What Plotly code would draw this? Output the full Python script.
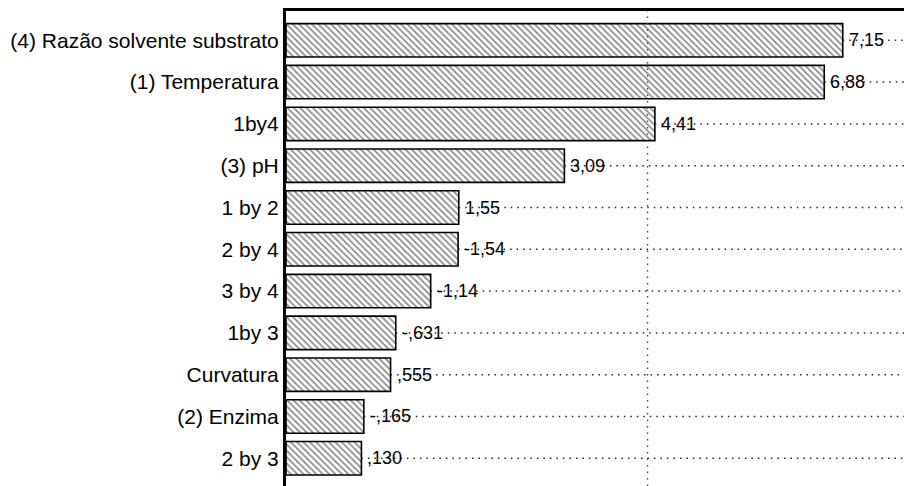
import plotly.graph_objects as go

# ---- data ----
categories = ["(4) Razão solvente substrato", "(1) Temperatura", "1by4", "(3) pH",
              "1 by 2", "2 by 4", "3 by 4", "1by 3", "Curvatura", "(2) Enzima", "2 by 3"]
effects = [7.15, 6.88, 4.41, 3.09, 1.55, -1.54, -1.14, -0.631, 0.555, -0.165, 0.130]
p_line = 4.303  # significance threshold (p = .05)


def fmt(v):
    if abs(v) >= 1:
        s = f"{v:.2f}"
    else:
        s = f"{v:.3f}".replace("0.", ".", 1)
    return s.replace(".", ",")


labels = [fmt(v) for v in effects]
abs_eff = [abs(v) for v in effects]
ypos = list(range(len(categories)))

XMIN, XMAX = -0.97, 8.16
FONT = "Liberation Sans, Arial, sans-serif"

fig = go.Figure()

# dotted leader lines from bar end to the right edge
for y, a in zip(ypos, abs_eff):
    fig.add_trace(go.Scatter(
        x=[a, XMAX], y=[y, y], mode="lines",
        line=dict(color="#222222", width=1.5, dash="1.5px,5px"),
        hoverinfo="skip", showlegend=False))

fig.add_trace(go.Bar(
    y=ypos,
    x=[a - XMIN for a in abs_eff],
    base=[XMIN] * len(abs_eff),
    orientation="h",
    marker=dict(
        color="white",
        line=dict(color="black", width=1.6),
        pattern=dict(shape="\\", fgcolor="#111111", bgcolor="white", size=4.5, solidity=0.38),
    ),
    showlegend=False,
))

for y, a, t in zip(ypos, abs_eff, labels):
    fig.add_annotation(x=a, y=y, text=t, showarrow=False, xanchor="left", yanchor="middle",
                       xshift=4, font=dict(size=18, color="black", family=FONT))

fig.add_shape(type="line", x0=p_line, x1=p_line, y0=0, y1=1, yref="paper",
              line=dict(color="#444444", width=1.4, dash="1.5px,5px"), layer="above")

fig.update_layout(
    width=904, height=478,
    margin=dict(l=278, r=0, t=3, b=0),
    paper_bgcolor="white", plot_bgcolor="white",
    bargap=0.2,
    font=dict(family=FONT, size=21, color="black"),
    xaxis=dict(range=[XMIN, XMAX], side="top", showline=True, linewidth=3, linecolor="black",
               showgrid=False, zeroline=False, showticklabels=False, ticks=""),
    yaxis=dict(range=[10.663, -0.701], tickvals=ypos, ticktext=categories,
               showline=True, linewidth=3, linecolor="black", showgrid=False, zeroline=False,
               ticks="", tickfont=dict(size=21, color="black", family=FONT)),
)

fig.write_html("out.html")
